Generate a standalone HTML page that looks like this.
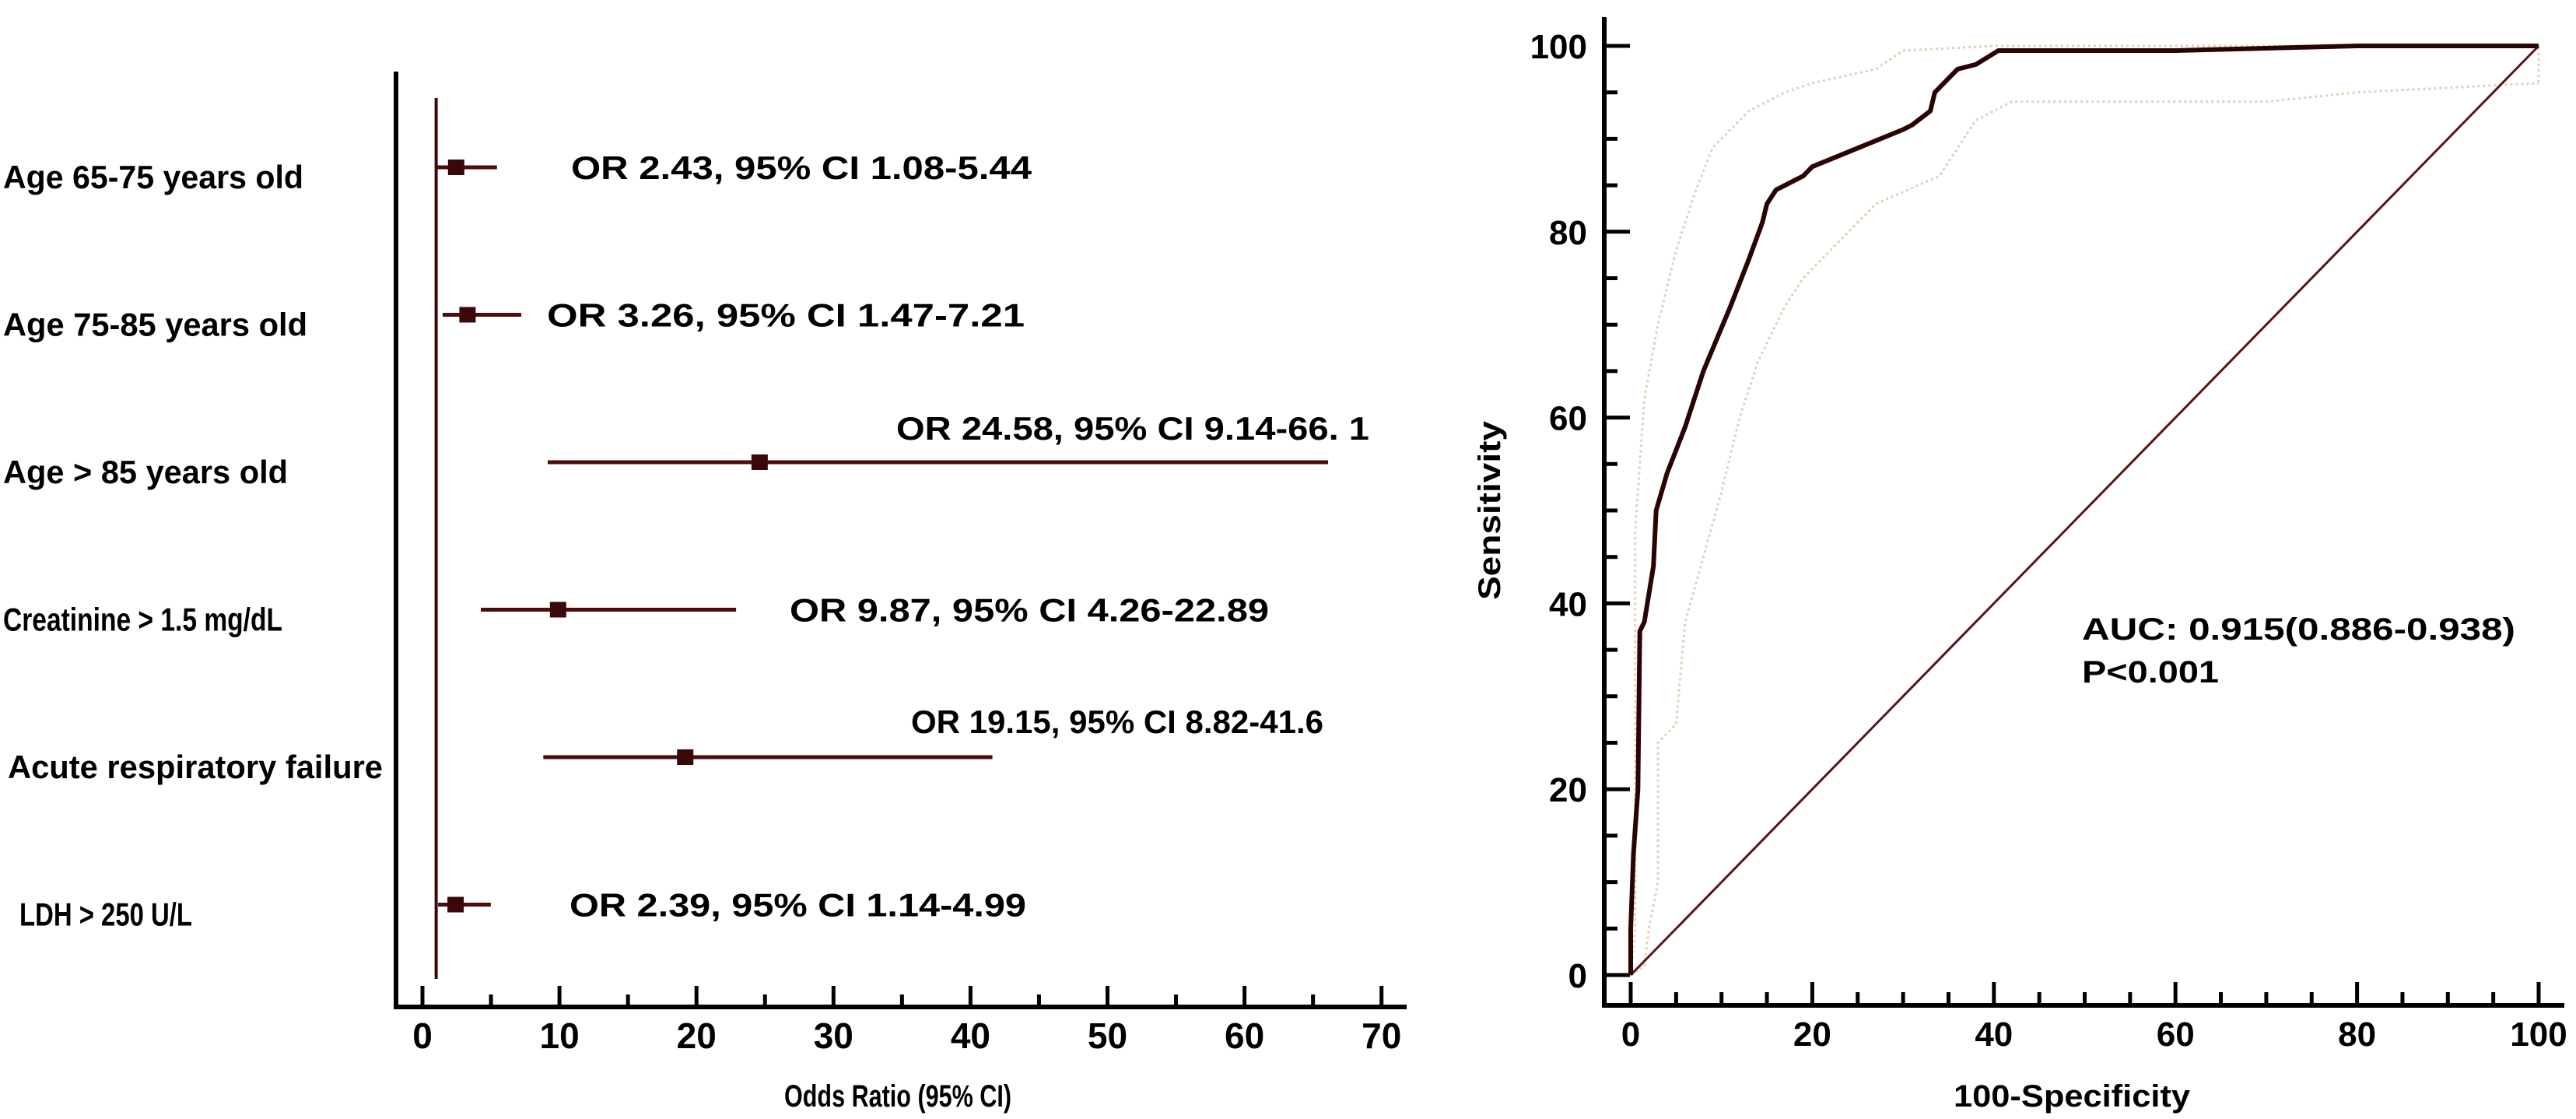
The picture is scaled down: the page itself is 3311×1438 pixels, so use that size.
<!DOCTYPE html>
<html><head><meta charset="utf-8"><style>
html,body{margin:0;padding:0;background:#fff;}
svg{display:block;font-family:"Liberation Sans",Arial,sans-serif;font-weight:bold;}
</style></head><body>
<svg id="chart" width="3311" height="1438" viewBox="0 0 3311 1438" xmlns="http://www.w3.org/2000/svg">
<rect width="3311" height="1438" fill="#fff"/>
<g id="forest"></g>
<g id="roc"></g>
</svg>
<script>
// ---------- Forest plot data ----------
const forestLabels = ["Age 65-75 years old","Age 75-85 years old","Age > 85 years old","Creatinine > 1.5 mg/dL","Acute respiratory failure","LDH > 250 U/L"];
const forestOR = [2.43, 3.26, 24.58, 9.87, 19.15, 2.39];
const forestLow = [1.08, 1.47, 9.14, 4.26, 8.82, 1.14];
const forestHigh = [5.44, 7.21, 66.1, 22.89, 41.6, 4.99];
const forestText = ["OR 2.43, 95% CI 1.08-5.44","OR 3.26, 95% CI 1.47-7.21","OR 24.58, 95% CI 9.14-66. 1","OR 9.87, 95% CI 4.26-22.89","OR 19.15, 95% CI 8.82-41.6","OR 2.39, 95% CI 1.14-4.99"];
const forestTicks = [0,10,20,30,40,50,60,70];

// ---------- ROC data ----------
const rocX = [0,0,0.3,0.8,1,1.5,2.5,2.8,4,6,8,11,13,14.5,15,16,18,19,20,25,30,31,33,33.5,35,36,38,40.5,60,80,100];
const rocY = [0,5,13,20,37,38,44,50,54,59,65,72,77,81,83,84.5,85.5,86,87,89,91,91.5,93,95,96.5,97.5,98,99.5,99.5,100,100];
const upperX = [0,0.5,0.5,0.5,1,1.5,3,5,7,9,11,13,17,20,27,30,40,100,100];
const upperY = [0,5,40,48,55,62,70,78,84,89,91,93,95,96,97.5,99.5,100,100,96];
const lowerX = [0,1.5,2,3,3,5,6,8,10,12,14,17,19,23,27,34,36,38,42,48,70,80,100];
const lowerY = [0,1,5,10,25,27,38,45,52,60,66,72,75,79,83,86,89,92,94,94,94,95,96];
const rocTicks = [0,20,40,60,80,100];

const NS = "http://www.w3.org/2000/svg";
function mk(parent, tag, attrs, text){
  const e = document.createElementNS(NS, tag);
  for (const k in attrs) e.setAttribute(k, attrs[k]);
  if (text !== undefined) e.textContent = text;
  parent.appendChild(e);
  return e;
}

// ===== Forest =====
const F = document.getElementById('forest');
const fx = v => 543 + v * 17.61;
const fy = i => 215 + i * 189.5;
const labelWidths = [386, 391, 366, 359, 482, 222];
const labelX = [4, 4, 4, 4, 10, 25];
const orX = [734, 703, 1152, 1015, 1171, 732];
const orW = [592, 614, 608, 616, 530, 587];
const orDy = [0, 0, -44, 0, -46, 0];

let e;
e = mk(F,'line',{x1:509,y1:92,x2:509,y2:1294,stroke:'#000','stroke-width':6});


e = mk(F,'line',{x1:506,y1:1294,x2:1808,y2:1294,stroke:'#000','stroke-width':6});


for (let v = 0; v <= 70; v += 5) {
  const major = v % 10 === 0;
  e = mk(F,'line',{x1:fx(v),y1:1294,x2:fx(v),y2:major?1267:1278,stroke:'#000','stroke-width':5});
  
  
}
forestTicks.forEach(t => {
  e = mk(F,'text',{x:fx(t),y:1347,'text-anchor':'middle','font-size':46},String(t));
  
  
});
e = mk(F,'text',{x:1154,y:1422,'text-anchor':'middle','font-size':40,textLength:292,lengthAdjust:'spacingAndGlyphs'},'Odds Ratio (95% CI)');


e = mk(F,'line',{x1:fx(1),y1:126,x2:fx(1),y2:1258,stroke:'#3a0808','stroke-width':4});



forestLabels.forEach((lab, i) => {
  const y = fy(i);
  e = mk(F,'text',{x:labelX[i],y:y+27,'font-size':42,textLength:labelWidths[i],lengthAdjust:'spacingAndGlyphs'},lab);
  
  
  e = mk(F,'line',{x1:fx(forestLow[i]),y1:y,x2:fx(forestHigh[i]),y2:y,stroke:'#4a0c0c','stroke-width':5});
  
  
  e = mk(F,'rect',{x:fx(forestOR[i])-10,y:y-10,width:21,height:20,fill:'#3a0808'});
  
  
  e = mk(F,'text',{x:orX[i],y:y+orDy[i]+15,'font-size':42,textLength:orW[i],lengthAdjust:'spacingAndGlyphs'},forestText[i]);
  
  
});

// ===== ROC =====
const R = document.getElementById('roc');
const rx = v => 2096 + v * 11.67;
const ry = v => 1253 - v * 11.94;

e = mk(R,'line',{x1:2062,y1:22,x2:2062,y2:1295,stroke:'#000','stroke-width':6});


e = mk(R,'line',{x1:2059,y1:1292,x2:3296,y2:1292,stroke:'#000','stroke-width':6});


for (let v = 0; v <= 100; v += 5) {
  const major = v % 20 === 0;
  e = mk(R,'line',{x1:2062,y1:ry(v),x2:major?2095:2079,y2:ry(v),stroke:'#000','stroke-width':5});
  
  
  e = mk(R,'line',{x1:rx(v),y1:1292,x2:rx(v),y2:major?1262:1275,stroke:'#000','stroke-width':5});
  
  
}
rocTicks.forEach(t => {
  e = mk(R,'text',{x:2040,y:ry(t)+16,'text-anchor':'end','font-size':44},String(t));
  
  
  e = mk(R,'text',{x:rx(t),y:1344,'text-anchor':'middle','font-size':44},String(t));
  
  
});
e = mk(R,'text',{x:2663,y:1422,'text-anchor':'middle','font-size':40,textLength:304,lengthAdjust:'spacingAndGlyphs'},'100-Specificity');


e = mk(R,'text',{x:1928,y:656,'text-anchor':'middle','font-size':40,transform:'rotate(-90 1928 656)',textLength:230,lengthAdjust:'spacingAndGlyphs'},'Sensitivity');



function pts(xs, ys){ return xs.map((x,i)=>rx(x).toFixed(1)+','+ry(ys[i]).toFixed(1)).join(' '); }

e = mk(R,'polyline',{points:pts(upperX,upperY),fill:'none',stroke:'#e6cdb4','stroke-width':3,'stroke-dasharray':'3 4'});


e = mk(R,'polyline',{points:pts(lowerX,lowerY),fill:'none',stroke:'#e6cdb4','stroke-width':3,'stroke-dasharray':'3 4'});


e = mk(R,'line',{x1:rx(0),y1:ry(0),x2:rx(100),y2:ry(100),stroke:'#5a1414','stroke-width':3});


e = mk(R,'polyline',{points:pts(rocX,rocY),fill:'none',stroke:'#2a0404','stroke-width':6,'stroke-linejoin':'round'});



e = mk(R,'text',{x:2676,y:822,'font-size':40,textLength:557,lengthAdjust:'spacingAndGlyphs'},'AUC: 0.915(0.886-0.938)');


e = mk(R,'text',{x:2676,y:877,'font-size':40,textLength:176,lengthAdjust:'spacingAndGlyphs'},'P<0.001');


</script>
</body></html>
